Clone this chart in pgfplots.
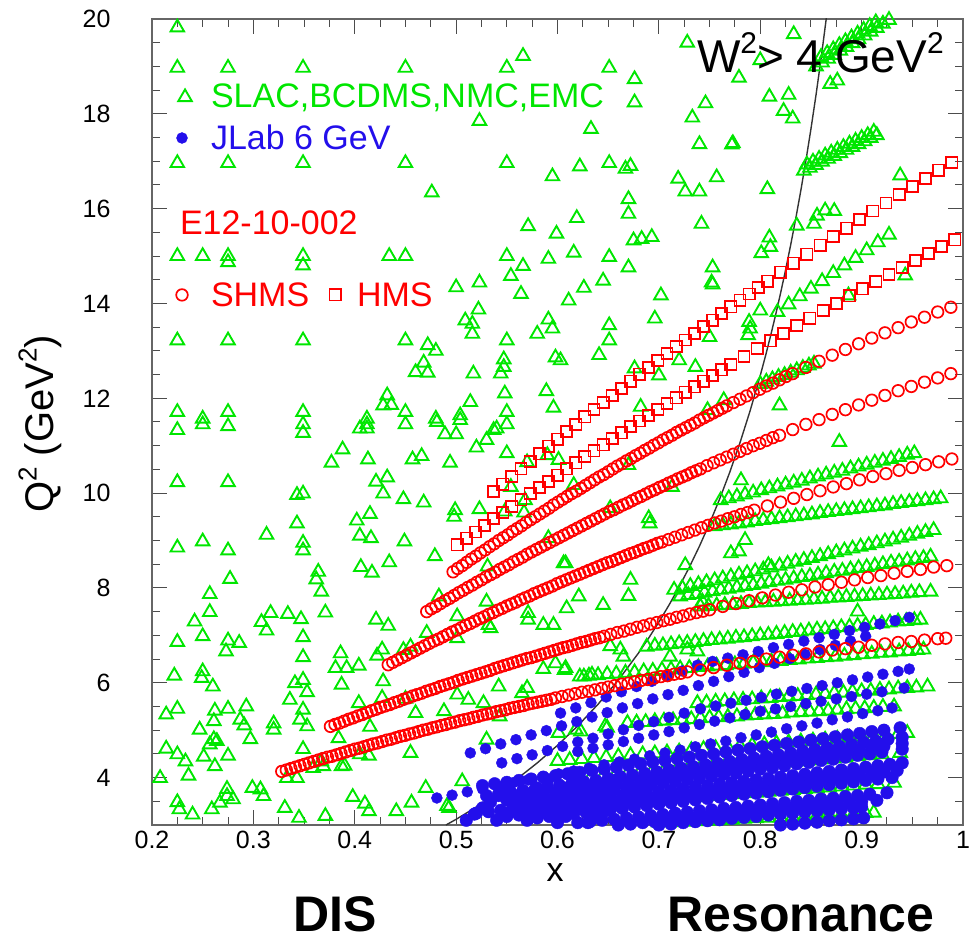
\documentclass[border=0pt]{standalone}
\usepackage{fontspec}
\setmainfont{Liberation Sans}
\usepackage{pgfplots}
\pgfplotsset{compat=1.18}
\definecolor{sgreen}{RGB}{0,230,0}
\definecolor{sblue}{RGB}{35,15,235}
\definecolor{sred}{RGB}{255,0,0}
\newcommand{\supt}[1]{\raisebox{0.42em}{\fontsize{#1}{#1}\selectfont 2}}
\begin{document}
\begin{tikzpicture}
\useasboundingbox (-152pt,-117pt) rectangle (819pt,825pt);
\begin{axis}[
  at={(0pt,0pt)}, anchor=south west,
  scale only axis, width=811pt, height=806pt,
  xmin=0.2, xmax=1, ymin=3, ymax=20,
  xtick={0.2,0.3,0.4,0.5,0.6,0.7,0.8,0.9,1},
  ytick={4,6,8,10,12,14,16,18,20},
  minor xtick={0.225,0.25,0.275,0.325,0.35,0.375,0.425,0.45,0.475,0.525,0.55,0.575,0.625,0.65,0.675,0.725,0.75,0.775,0.825,0.85,0.875,0.925,0.95,0.975},
  minor ytick={3.5,4.5,5,5.5,6.5,7,7.5,8.5,9,9.5,10.5,11,11.5,12.5,13,13.5,14.5,15,15.5,16.5,17,17.5,18.5,19,19.5},
  tick align=inside,
  major tick length=15pt, minor tick length=8pt,
  tick style={black!70, line width=1pt},
  axis line style={black!60, line width=1.3pt},
  /pgf/number format/assume math mode=true,
  tick label style={font=\fontsize{25}{30}\selectfont},
  yticklabel style={xshift=-38pt},
  xticklabel style={yshift=-3pt},
  gtri/.style={only marks, mark=triangle, mark size=7.8pt, color=sgreen, mark options={line width=1.9pt, solid}},
  bdot/.style={only marks, mark=*, mark size=5.5pt, color=sblue, mark options={draw=sblue, fill=sblue}},
  bdotb/.style={only marks, mark=*, mark size=6.3pt, color=sblue, mark options={draw=sblue, fill=sblue}},
  rcirc/.style={only marks, mark=o, mark size=5.8pt, color=sred, mark options={line width=1.7pt}},
  rsq/.style={only marks, mark=square, mark size=5.6pt, color=sred, mark options={line width=1.7pt}},
]
% ---------------- SLAC, BCDMS, NMC, EMC (scattered) ----------------
\addplot[gtri] coordinates {
(0.225,19.82)(0.225,18.97)(0.275,18.97)(0.349,18.97)(0.450,18.97)(0.550,18.97)(0.566,19.22)(0.523,17.85)
(0.225,16.96)(0.275,16.96)(0.349,16.96)(0.450,16.96)(0.550,16.96)(0.595,16.68)(0.476,16.34)(0.571,15.63)(0.599,15.47)
(0.225,15.00)(0.250,15.00)(0.275,15.00)(0.275,14.87)(0.349,15.00)(0.349,14.80)(0.434,15.00)(0.450,15.00)(0.550,15.00)(0.566,14.79)(0.591,14.94)(0.554,14.58)(0.523,14.44)(0.500,14.34)(0.564,14.20)(0.522,13.87)(0.509,13.64)(0.516,13.57)(0.516,13.36)(0.591,13.66)(0.595,13.47)(0.580,13.36)
(0.225,13.22)(0.275,13.22)(0.349,13.22)(0.450,13.22)(0.550,13.22)(0.472,13.12)(0.480,13.00)(0.468,12.75)(0.460,12.55)(0.472,12.54)(0.517,12.52)(0.547,12.82)(0.547,12.66)(0.544,12.52)(0.598,12.86)(0.548,12.10)(0.589,12.15)(0.432,12.06)(0.428,11.85)(0.436,11.86)(0.514,11.92)(0.596,11.80)
(0.225,11.71)(0.275,11.71)(0.349,11.71)(0.450,11.71)(0.550,11.71)(0.250,11.57)(0.412,11.57)(0.480,11.57)(0.504,11.64)
(0.728,19.50)(0.833,19.68)(0.800,19.13)(0.651,18.97)(0.676,18.73)(0.779,18.76)(0.676,18.24)(0.809,18.36)(0.828,18.40)(0.746,18.22)(0.733,17.92)(0.823,18.06)(0.832,17.90)(0.633,17.68)(0.740,17.36)(0.772,17.35)(0.773,17.38)(0.622,16.89)(0.651,16.96)(0.667,16.84)(0.672,16.90)(0.719,16.63)(0.757,16.66)(0.726,16.36)(0.740,16.36)(0.807,16.41)(0.938,16.70)(0.670,16.20)(0.670,15.89)(0.619,15.80)(0.742,15.68)(0.836,15.64)(0.853,15.68)(0.856,15.85)(0.864,15.96)(0.873,15.95)(0.675,15.33)(0.683,15.36)(0.693,15.40)(0.809,15.39)(0.810,15.19)(0.801,15.06)(0.616,15.07)(0.651,14.98)(0.670,14.76)(0.753,14.76)(0.752,14.44)(0.753,14.40)(0.645,14.48)(0.626,14.33)(0.611,14.06)(0.702,14.17)(0.943,14.59)(0.887,14.17)(0.800,13.85)(0.696,13.68)(0.651,13.54)(0.651,13.22)(0.789,13.61)(0.790,13.47)(0.788,13.33)(0.641,12.91)(0.676,12.63)(0.736,12.66)(0.750,13.29)(0.764,11.96)(0.819,11.85)(0.748,11.75)(0.682,11.82)(0.720,12.80)(0.700,12.48)(0.603,12.80)(0.869,18.63)(0.876,18.70)
(0.225,11.33)(0.250,11.45)(0.275,11.41)(0.349,11.45)(0.349,11.27)(0.412,11.45)(0.405,11.36)(0.412,11.36)(0.450,11.45)(0.481,11.50)(0.504,11.54)(0.540,11.36)(0.550,11.45)(0.537,11.33)(0.489,11.24)(0.500,11.24)
(0.388,10.92)(0.377,10.64)(0.413,10.71)(0.457,10.71)(0.466,10.78)(0.494,10.64)(0.520,10.96)(0.550,10.84)(0.421,10.24)(0.432,10.33)(0.428,9.99)(0.448,9.87)(0.468,9.80)(0.225,10.23)(0.275,10.23)(0.343,9.96)(0.349,9.99)(0.402,9.42)(0.415,9.56)(0.405,9.10)(0.416,9.05)(0.499,9.64)(0.498,9.50)(0.523,9.66)(0.567,9.59)(0.548,9.61)
(0.225,8.85)(0.250,8.98)(0.275,8.79)(0.313,9.12)(0.343,9.36)(0.349,8.95)(0.349,8.79)(0.364,8.34)(0.362,8.18)(0.367,7.92)(0.406,8.44)(0.417,8.32)(0.434,8.54)(0.449,8.98)(0.479,8.67)(0.277,8.19)(0.257,7.87)(0.242,7.29)(0.257,7.49)(0.250,6.98)(0.225,6.86)(0.275,6.89)(0.286,6.84)(0.273,6.66)(0.308,7.28)(0.317,7.47)(0.313,7.10)(0.334,7.45)(0.347,7.34)(0.349,6.96)(0.371,7.48)(0.421,7.33)(0.433,7.20)(0.349,6.54)(0.386,6.62)(0.381,6.31)(0.392,6.31)(0.404,6.36)(0.422,6.57)(0.427,6.70)(0.387,5.96)(0.428,6.03)
(0.222,6.15)(0.250,6.24)(0.249,6.10)(0.260,5.92)(0.336,5.64)(0.341,5.99)(0.349,6.06)(0.353,5.80)(0.349,5.43)(0.346,5.22)(0.353,5.08)(0.214,5.33)(0.225,5.45)(0.262,5.41)(0.261,5.19)(0.275,5.45)(0.293,5.50)(0.287,5.22)(0.291,5.10)(0.297,4.81)(0.320,5.14)(0.320,5.01)(0.247,5.01)(0.261,4.81)(0.257,4.70)(0.264,4.77)(0.214,4.61)(0.225,4.49)(0.233,4.34)(0.236,4.04)(0.251,4.44)(0.262,4.24)(0.275,4.46)(0.349,4.60)(0.384,4.83)(0.415,5.07)(0.404,5.57)(0.427,5.68)(0.450,5.66)(0.460,5.36)(0.455,4.52)(0.405,4.49)(0.414,4.46)(0.387,4.24)(0.390,4.25)(0.359,4.20)(0.343,3.99)(0.333,3.99)(0.367,4.34)(0.369,4.24)(0.208,3.99)
(0.225,3.48)(0.227,3.33)(0.240,3.22)(0.259,3.33)(0.267,3.47)(0.274,3.76)(0.280,3.54)(0.274,3.61)(0.299,3.78)(0.307,3.75)(0.310,3.61)(0.331,3.36)(0.345,3.15)(0.371,3.19)(0.398,3.59)(0.410,3.45)(0.414,3.29)(0.441,3.29)(0.456,3.47)(0.470,3.78)(0.491,3.40)(0.506,3.92)(0.530,4.80)(0.542,5.92)(0.570,5.89)(0.586,6.29)(0.598,6.41)(0.607,6.27)(0.596,7.22)(0.586,7.22)(0.571,7.47)(0.571,7.33)(0.530,7.71)(0.532,7.22)(0.534,7.15)(0.501,6.94)(0.501,7.40)(0.501,5.75)(0.512,5.64)(0.527,5.57)(0.488,5.40)(0.543,5.29)(0.565,5.78)(0.483,7.82)(0.531,8.45)(0.606,8.52)(0.591,9.05)(0.570,10.65)(0.590,10.80)(0.601,10.70)(0.554,10.13)(0.568,9.85)(0.530,11.12)(0.471,7.05)(0.455,6.76)(0.448,6.69)
(0.616,10.17)(0.652,9.68)(0.670,10.59)(0.690,9.47)(0.691,9.36)(0.713,10.13)(0.608,8.52)(0.672,8.17)(0.670,7.83)(0.645,7.64)(0.621,7.82)(0.609,7.57)(0.726,8.48)(0.781,10.27)(0.771,8.73)(0.779,8.77)(0.785,9.01)(0.808,8.48)(0.878,11.08)(0.896,7.50)(0.608,6.31)(0.626,6.13)(0.634,6.17)(0.652,6.77)(0.662,6.70)(0.665,6.55)(0.711,6.55)(0.728,6.70)(0.738,6.66)(0.647,5.08)(0.623,4.97)(0.618,5.01)(0.743,7.71)(0.850,3.12)(0.864,3.15)(0.879,3.15)(0.493,3.36)(0.649,5.05)(0.601,4.94)
};
% ---------------- SLAC etc. dense bands ----------------
\addplot[gtri] coordinates {(0.855,19.00)(0.861,19.08)(0.867,19.16)(0.873,19.24)(0.879,19.33)(0.885,19.41)(0.891,19.49)(0.897,19.57)(0.903,19.65)(0.909,19.73)(0.915,19.81)(0.921,19.90)(0.927,19.98)};
\addplot[gtri] coordinates {(0.860,19.20)(0.866,19.28)(0.872,19.36)(0.878,19.45)(0.884,19.53)(0.890,19.61)(0.896,19.69)(0.902,19.77)(0.908,19.85)(0.914,19.93)(0.920,20.02)};
\addplot[gtri] coordinates {(0.843,16.80)(0.849,16.86)(0.855,16.92)(0.861,16.99)(0.867,17.05)(0.873,17.11)(0.879,17.17)(0.885,17.24)(0.891,17.30)(0.897,17.36)(0.903,17.42)(0.909,17.49)(0.915,17.55)};
\addplot[gtri] coordinates {(0.846,16.93)(0.852,16.99)(0.858,17.05)(0.864,17.12)(0.870,17.18)(0.876,17.24)(0.882,17.30)(0.888,17.37)(0.894,17.43)(0.900,17.49)(0.906,17.55)(0.912,17.62)};
\addplot[gtri] coordinates {(0.817,13.82)(0.828,13.98)(0.839,14.15)(0.850,14.31)(0.861,14.47)(0.872,14.64)(0.883,14.80)(0.894,14.96)(0.905,15.12)(0.916,15.29)(0.927,15.45)};
\addplot[gtri] coordinates {(0.800,12.30)(0.806,12.35)(0.812,12.40)(0.818,12.45)(0.824,12.49)(0.830,12.54)(0.836,12.59)(0.842,12.64)(0.848,12.69)(0.853,12.73)};
\addplot[gtri] coordinates {(0.761,9.85)(0.769,9.89)(0.777,9.93)(0.785,9.97)(0.793,10.01)(0.801,10.06)(0.809,10.10)(0.817,10.14)(0.825,10.18)(0.833,10.22)(0.841,10.26)(0.849,10.31)(0.857,10.35)(0.865,10.39)(0.873,10.43)(0.881,10.47)(0.889,10.52)(0.897,10.56)(0.905,10.60)(0.913,10.64)(0.921,10.68)(0.929,10.72)(0.937,10.76)(0.945,10.81)(0.952,10.84)};
\addplot[gtri] coordinates {(0.755,9.30)(0.763,9.32)(0.771,9.34)(0.779,9.36)(0.787,9.38)(0.795,9.41)(0.803,9.43)(0.811,9.45)(0.819,9.47)(0.827,9.49)(0.835,9.51)(0.843,9.53)(0.851,9.55)(0.859,9.58)(0.867,9.60)(0.875,9.62)(0.883,9.64)(0.891,9.66)(0.899,9.68)(0.907,9.70)(0.915,9.72)(0.923,9.74)(0.931,9.77)(0.939,9.79)(0.947,9.81)(0.955,9.83)(0.963,9.85)(0.971,9.87)(0.978,9.89)};
\addplot[gtri] coordinates {(0.715,7.96)(0.723,8.00)(0.731,8.04)(0.739,8.08)(0.747,8.12)(0.755,8.16)(0.763,8.20)(0.771,8.24)(0.779,8.28)(0.787,8.31)(0.795,8.35)(0.803,8.39)(0.811,8.43)(0.819,8.47)(0.827,8.51)(0.835,8.55)(0.843,8.59)(0.851,8.63)(0.859,8.67)(0.867,8.71)(0.875,8.75)(0.883,8.79)(0.891,8.83)(0.899,8.87)(0.907,8.90)(0.915,8.94)(0.923,8.98)(0.931,9.02)(0.939,9.06)(0.947,9.10)(0.955,9.14)(0.963,9.18)(0.971,9.22)};
\addplot[gtri] coordinates {(0.721,7.82)(0.729,7.85)(0.737,7.87)(0.745,7.90)(0.753,7.93)(0.761,7.96)(0.769,7.98)(0.777,8.01)(0.785,8.04)(0.793,8.06)(0.801,8.09)(0.809,8.12)(0.817,8.15)(0.825,8.17)(0.833,8.20)(0.841,8.23)(0.849,8.25)(0.857,8.28)(0.865,8.31)(0.873,8.34)(0.881,8.36)(0.889,8.39)(0.897,8.42)(0.905,8.44)(0.913,8.47)(0.921,8.50)(0.929,8.53)(0.937,8.55)(0.945,8.58)(0.953,8.61)(0.961,8.63)(0.968,8.66)};
\addplot[gtri] coordinates {(0.741,7.61)(0.749,7.62)(0.757,7.63)(0.765,7.64)(0.773,7.65)(0.781,7.66)(0.789,7.68)(0.797,7.69)(0.805,7.70)(0.813,7.71)(0.821,7.72)(0.829,7.73)(0.837,7.74)(0.845,7.75)(0.853,7.76)(0.861,7.77)(0.869,7.79)(0.877,7.80)(0.885,7.81)(0.893,7.82)(0.901,7.83)(0.909,7.84)(0.917,7.85)(0.925,7.86)(0.933,7.87)(0.941,7.88)(0.949,7.90)(0.957,7.91)(0.968,7.92)};
\addplot[gtri] coordinates {(0.688,6.76)(0.696,6.78)(0.704,6.79)(0.712,6.81)(0.720,6.83)(0.728,6.84)(0.736,6.86)(0.744,6.88)(0.752,6.90)(0.760,6.91)(0.768,6.93)(0.776,6.95)(0.784,6.96)(0.792,6.98)(0.800,7.00)(0.808,7.01)(0.816,7.03)(0.824,7.05)(0.832,7.07)(0.840,7.08)(0.848,7.10)(0.856,7.12)(0.864,7.13)(0.872,7.15)(0.880,7.17)(0.888,7.18)(0.896,7.20)(0.904,7.22)(0.912,7.24)(0.920,7.25)(0.928,7.27)(0.936,7.29)(0.944,7.30)(0.952,7.32)(0.958,7.33)};
\addplot[gtri] coordinates {(0.622,6.13)(0.631,6.15)(0.640,6.16)(0.649,6.18)(0.658,6.19)(0.667,6.21)(0.676,6.22)(0.685,6.24)(0.694,6.25)(0.703,6.27)(0.712,6.28)(0.721,6.30)(0.730,6.31)(0.739,6.33)(0.748,6.34)(0.757,6.36)(0.766,6.37)(0.775,6.39)(0.784,6.40)(0.793,6.42)(0.802,6.43)(0.811,6.45)(0.820,6.46)(0.829,6.48)(0.838,6.49)(0.847,6.51)(0.856,6.52)(0.865,6.54)(0.874,6.55)(0.883,6.57)(0.892,6.58)(0.901,6.60)(0.910,6.61)(0.919,6.63)(0.928,6.64)(0.937,6.66)(0.946,6.67)(0.955,6.69)(0.961,6.70)};
\addplot[gtri] coordinates {(0.738,5.57)(0.747,5.58)(0.756,5.60)(0.765,5.61)(0.774,5.63)(0.783,5.64)(0.792,5.65)(0.801,5.67)(0.810,5.68)(0.819,5.70)(0.828,5.71)(0.837,5.72)(0.846,5.74)(0.855,5.75)(0.864,5.76)(0.873,5.78)(0.882,5.79)(0.891,5.81)(0.900,5.82)(0.909,5.83)(0.918,5.85)(0.927,5.86)(0.936,5.88)(0.945,5.89)(0.954,5.90)(0.965,5.92)};
\addplot[gtri] coordinates {(0.669,5.15)(0.678,5.16)(0.687,5.17)(0.696,5.19)(0.705,5.20)(0.714,5.21)(0.723,5.22)(0.732,5.23)(0.741,5.25)(0.750,5.26)(0.759,5.27)(0.768,5.28)(0.777,5.29)(0.786,5.31)(0.795,5.32)(0.804,5.33)(0.813,5.34)(0.822,5.35)(0.831,5.37)(0.840,5.38)(0.849,5.39)(0.858,5.40)(0.867,5.41)(0.876,5.43)(0.885,5.44)(0.894,5.45)(0.903,5.46)(0.912,5.47)(0.921,5.49)(0.932,5.50)};
\addplot[gtri] coordinates {(0.600,4.35)(0.612,4.37)(0.624,4.39)(0.636,4.41)(0.648,4.43)(0.660,4.45)(0.672,4.47)(0.684,4.49)(0.696,4.51)(0.708,4.53)(0.720,4.55)(0.732,4.58)(0.744,4.60)(0.756,4.62)(0.768,4.64)(0.780,4.66)(0.792,4.68)(0.804,4.70)(0.816,4.72)(0.828,4.74)(0.840,4.76)(0.852,4.78)(0.864,4.80)(0.876,4.82)(0.888,4.84)(0.900,4.86)(0.912,4.88)(0.924,4.90)(0.936,4.92)(0.945,4.94)};
\addplot[gtri] coordinates {(0.620,3.95)(0.632,3.97)(0.644,3.99)(0.656,4.01)(0.668,4.04)(0.680,4.06)(0.692,4.08)(0.704,4.10)(0.716,4.12)(0.728,4.14)(0.740,4.17)(0.752,4.19)(0.764,4.21)(0.776,4.23)(0.788,4.25)(0.800,4.27)(0.812,4.30)(0.824,4.32)(0.836,4.34)(0.848,4.36)(0.860,4.38)(0.872,4.40)(0.884,4.42)(0.896,4.45)(0.908,4.47)(0.920,4.49)(0.938,4.52)};
\addplot[gtri] coordinates {(0.640,3.45)(0.652,3.47)(0.664,3.49)(0.676,3.50)(0.688,3.52)(0.700,3.54)(0.712,3.56)(0.724,3.58)(0.736,3.59)(0.748,3.61)(0.760,3.63)(0.772,3.65)(0.784,3.67)(0.796,3.68)(0.808,3.70)(0.820,3.72)(0.832,3.74)(0.844,3.76)(0.856,3.77)(0.868,3.79)(0.880,3.81)(0.892,3.83)(0.904,3.85)(0.916,3.86)(0.932,3.89)};
\addplot[gtri] coordinates {(0.700,3.05)(0.712,3.06)(0.724,3.07)(0.736,3.08)(0.748,3.09)(0.760,3.10)(0.772,3.11)(0.784,3.13)(0.796,3.14)(0.808,3.15)(0.820,3.16)(0.832,3.17)(0.844,3.18)(0.856,3.20)(0.868,3.21)(0.880,3.22)(0.892,3.23)(0.904,3.25)(0.912,3.26)};
% ---------------- JLab 6 GeV ----------------
\addplot[bdot] coordinates {(0.603,5.36)(0.618,5.47)(0.633,5.58)(0.648,5.70)(0.663,5.81)(0.678,5.92)(0.693,6.03)(0.708,6.14)(0.723,6.25)(0.738,6.37)(0.753,6.45)(0.768,6.52)(0.783,6.59)(0.798,6.66)(0.813,6.74)(0.828,6.81)(0.843,6.88)(0.858,6.95)(0.873,7.02)(0.888,7.10)(0.903,7.17)(0.918,7.24)(0.933,7.31)(0.947,7.38)};
\addplot[bdot] coordinates {(0.514,4.52)(0.529,4.61)(0.544,4.71)(0.559,4.80)(0.574,4.90)(0.589,4.99)(0.604,5.09)(0.619,5.18)(0.634,5.28)(0.649,5.37)(0.664,5.47)(0.679,5.56)(0.694,5.66)(0.709,5.75)(0.724,5.84)(0.739,5.94)(0.754,6.03)(0.769,6.13)(0.784,6.22)(0.799,6.32)(0.814,6.41)(0.829,6.51)(0.844,6.60)(0.859,6.70)(0.874,6.79)(0.889,6.88)(0.904,6.98)};
\addplot[bdot] coordinates {(0.545,4.31)(0.560,4.40)(0.575,4.48)(0.590,4.57)(0.605,4.66)(0.620,4.75)(0.635,4.83)(0.650,4.92)(0.665,5.01)(0.680,5.10)(0.695,5.18)(0.710,5.27)(0.725,5.36)(0.741,5.45)(0.756,5.51)(0.771,5.57)(0.786,5.63)(0.801,5.69)(0.816,5.76)(0.831,5.82)(0.846,5.88)(0.861,5.94)(0.876,6.00)(0.891,6.06)(0.906,6.12)(0.921,6.18)(0.936,6.24)(0.947,6.29)};
\addplot[bdot] coordinates {(0.620,4.55)(0.635,4.62)(0.650,4.69)(0.665,4.76)(0.680,4.83)(0.695,4.90)(0.710,4.97)(0.725,5.05)(0.740,5.12)(0.755,5.19)(0.770,5.26)(0.785,5.33)(0.800,5.40)(0.815,5.45)(0.830,5.50)(0.845,5.56)(0.860,5.61)(0.875,5.66)(0.890,5.71)(0.905,5.76)(0.920,5.81)(0.942,5.89)};
\addplot[bdot] coordinates {(0.481,3.57)(0.496,3.63)(0.511,3.70)(0.526,3.76)(0.541,3.82)(0.556,3.89)(0.571,3.95)(0.586,4.01)(0.601,4.08)(0.616,4.14)(0.631,4.20)(0.646,4.27)(0.661,4.33)(0.676,4.39)(0.691,4.46)(0.706,4.52)(0.721,4.58)(0.736,4.65)(0.751,4.71)(0.766,4.77)(0.781,4.84)(0.796,4.90)(0.811,4.96)(0.826,5.03)(0.841,5.09)(0.856,5.15)(0.871,5.22)(0.886,5.28)(0.901,5.35)(0.916,5.41)(0.930,5.47)};
\addplot[bdotb] coordinates {(0.526,3.83)(0.538,3.87)(0.550,3.90)(0.562,3.94)(0.574,3.97)(0.586,4.01)(0.598,4.04)(0.610,4.08)(0.622,4.11)(0.634,4.15)(0.646,4.18)(0.658,4.22)(0.670,4.26)(0.682,4.29)(0.694,4.33)(0.706,4.36)(0.718,4.40)(0.730,4.43)(0.742,4.47)(0.754,4.50)(0.766,4.54)(0.778,4.58)(0.790,4.61)(0.802,4.65)(0.814,4.68)(0.826,4.72)(0.838,4.75)(0.850,4.79)(0.862,4.82)(0.874,4.86)(0.886,4.90)(0.898,4.93)(0.910,4.97)(0.922,5.00)(0.938,5.05)};
\addplot[bdotb] coordinates {(0.530,3.62)(0.542,3.66)(0.554,3.69)(0.566,3.73)(0.578,3.76)(0.590,3.80)(0.602,3.84)(0.614,3.87)(0.626,3.91)(0.638,3.94)(0.650,3.98)(0.662,4.02)(0.674,4.05)(0.686,4.09)(0.698,4.12)(0.710,4.16)(0.722,4.20)(0.734,4.23)(0.746,4.27)(0.758,4.30)(0.770,4.34)(0.782,4.38)(0.794,4.41)(0.806,4.45)(0.818,4.48)(0.830,4.52)(0.842,4.56)(0.854,4.59)(0.866,4.63)(0.878,4.66)(0.890,4.70)(0.902,4.74)(0.914,4.77)(0.926,4.81)(0.940,4.85)};
\addplot[bdotb] coordinates {(0.550,3.53)(0.562,3.57)(0.574,3.60)(0.586,3.64)(0.598,3.68)(0.610,3.71)(0.622,3.75)(0.634,3.79)(0.646,3.82)(0.658,3.86)(0.670,3.90)(0.682,3.93)(0.694,3.97)(0.706,4.00)(0.718,4.04)(0.730,4.08)(0.742,4.11)(0.754,4.15)(0.766,4.19)(0.778,4.22)(0.790,4.26)(0.802,4.30)(0.814,4.33)(0.826,4.37)(0.838,4.41)(0.850,4.44)(0.862,4.48)(0.874,4.52)(0.886,4.55)(0.898,4.59)(0.910,4.63)(0.922,4.66)(0.940,4.72)};
\addplot[bdotb] coordinates {(0.560,3.45)(0.572,3.49)(0.584,3.52)(0.596,3.56)(0.608,3.60)(0.620,3.63)(0.632,3.67)(0.644,3.70)(0.656,3.74)(0.668,3.78)(0.680,3.81)(0.692,3.85)(0.704,3.89)(0.716,3.92)(0.728,3.96)(0.740,3.99)(0.752,4.03)(0.764,4.07)(0.776,4.10)(0.788,4.14)(0.800,4.18)(0.812,4.21)(0.824,4.25)(0.836,4.29)(0.848,4.32)(0.860,4.36)(0.872,4.39)(0.884,4.43)(0.896,4.47)(0.908,4.50)(0.920,4.54)(0.940,4.60)};
\addplot[bdotb] coordinates {(0.520,3.25)(0.532,3.28)(0.544,3.31)(0.556,3.34)(0.568,3.37)(0.580,3.40)(0.592,3.43)(0.604,3.46)(0.616,3.49)(0.628,3.52)(0.640,3.55)(0.652,3.58)(0.664,3.61)(0.676,3.64)(0.688,3.67)(0.700,3.70)(0.712,3.73)(0.724,3.77)(0.736,3.80)(0.748,3.83)(0.760,3.86)(0.772,3.89)(0.784,3.92)(0.796,3.95)(0.808,3.98)(0.820,4.01)(0.832,4.04)(0.844,4.07)(0.856,4.10)(0.868,4.13)(0.880,4.16)(0.892,4.19)(0.904,4.22)(0.916,4.25)(0.928,4.28)(0.940,4.31)};
\addplot[bdotb] coordinates {(0.550,3.18)(0.562,3.21)(0.574,3.24)(0.586,3.27)(0.598,3.30)(0.610,3.33)(0.622,3.36)(0.634,3.39)(0.646,3.42)(0.658,3.45)(0.670,3.48)(0.682,3.51)(0.694,3.54)(0.706,3.57)(0.718,3.60)(0.730,3.63)(0.742,3.66)(0.754,3.69)(0.766,3.72)(0.778,3.75)(0.790,3.78)(0.802,3.81)(0.814,3.84)(0.826,3.87)(0.838,3.90)(0.850,3.94)(0.862,3.97)(0.874,4.00)(0.886,4.03)(0.898,4.06)(0.910,4.09)(0.922,4.12)(0.935,4.15)};
\addplot[bdotb] coordinates {(0.580,3.15)(0.592,3.18)(0.604,3.21)(0.616,3.24)(0.628,3.27)(0.640,3.30)(0.652,3.32)(0.664,3.35)(0.676,3.38)(0.688,3.41)(0.700,3.44)(0.712,3.47)(0.724,3.50)(0.736,3.53)(0.748,3.56)(0.760,3.59)(0.772,3.62)(0.784,3.65)(0.796,3.67)(0.808,3.70)(0.820,3.73)(0.832,3.76)(0.844,3.79)(0.856,3.82)(0.868,3.85)(0.880,3.88)(0.892,3.91)(0.904,3.94)(0.916,3.97)(0.930,4.00)};
\addplot[bdotb] coordinates {(0.620,3.05)(0.632,3.07)(0.644,3.10)(0.656,3.12)(0.668,3.15)(0.680,3.17)(0.692,3.20)(0.704,3.22)(0.716,3.25)(0.728,3.27)(0.740,3.30)(0.752,3.32)(0.764,3.35)(0.776,3.37)(0.788,3.40)(0.800,3.42)(0.812,3.45)(0.824,3.47)(0.836,3.50)(0.848,3.52)(0.860,3.55)(0.872,3.57)(0.884,3.60)(0.896,3.62)(0.908,3.65)(0.925,3.68)};
\addplot[bdotb] coordinates {(0.660,3.00)(0.672,3.02)(0.684,3.05)(0.696,3.07)(0.708,3.10)(0.720,3.12)(0.732,3.15)(0.744,3.17)(0.756,3.20)(0.768,3.22)(0.780,3.24)(0.792,3.27)(0.804,3.29)(0.816,3.32)(0.828,3.34)(0.840,3.37)(0.852,3.39)(0.864,3.42)(0.876,3.44)(0.888,3.47)(0.900,3.49)(0.915,3.52)};
\addplot[bdotb] coordinates {(0.700,3.00)(0.712,3.02)(0.724,3.05)(0.736,3.07)(0.748,3.09)(0.760,3.11)(0.772,3.14)(0.784,3.16)(0.796,3.18)(0.808,3.21)(0.820,3.23)(0.832,3.25)(0.844,3.27)(0.856,3.30)(0.868,3.32)(0.880,3.34)(0.892,3.36)(0.900,3.38)};
\addplot[bdotb] coordinates {(0.820,3.00)(0.832,3.02)(0.844,3.04)(0.856,3.06)(0.868,3.09)(0.880,3.11)(0.892,3.13)(0.902,3.15)};
\addplot[bdotb] coordinates {(0.510,3.10)(0.518,3.23)(0.526,3.36)(0.534,3.49)(0.542,3.62)(0.550,3.75)};
\addplot[bdotb] coordinates {(0.540,3.10)(0.548,3.24)(0.556,3.37)(0.564,3.51)(0.572,3.64)(0.580,3.78)(0.590,3.95)};
\addplot[bdotb] coordinates {(0.570,3.10)(0.578,3.24)(0.586,3.37)(0.594,3.51)(0.602,3.64)(0.610,3.78)(0.620,3.95)};
\addplot[bdotb] coordinates {(0.600,3.05)(0.608,3.18)(0.616,3.30)(0.624,3.43)(0.632,3.56)(0.640,3.68)(0.648,3.81)(0.656,3.94)};
\addplot[bdotb] coordinates {(0.630,3.05)(0.638,3.16)(0.646,3.28)(0.654,3.39)(0.662,3.50)(0.670,3.62)(0.678,3.73)(0.686,3.84)};
% ---------------- E12-10-002 SHMS ----------------
\addplot[rcirc] coordinates {(0.328,4.13)(0.337,4.19)(0.346,4.25)(0.355,4.31)(0.364,4.37)(0.373,4.43)(0.382,4.48)(0.391,4.54)(0.400,4.60)(0.409,4.65)(0.418,4.71)(0.427,4.76)(0.436,4.81)(0.445,4.87)(0.454,4.92)(0.463,4.97)(0.472,5.02)(0.481,5.07)(0.490,5.12)(0.499,5.17)(0.508,5.22)(0.517,5.27)(0.526,5.32)(0.535,5.36)(0.544,5.41)(0.553,5.46)(0.562,5.50)(0.571,5.55)(0.580,5.59)(0.589,5.63)(0.598,5.68)(0.611,5.74)(0.624,5.80)(0.637,5.85)(0.650,5.91)(0.663,5.97)(0.676,6.02)(0.689,6.07)(0.702,6.13)(0.715,6.18)(0.728,6.23)(0.741,6.27)(0.754,6.32)(0.767,6.37)(0.780,6.41)(0.793,6.45)(0.806,6.50)(0.819,6.54)(0.832,6.58)(0.845,6.61)(0.858,6.65)(0.871,6.69)(0.884,6.72)(0.897,6.75)(0.910,6.79)(0.923,6.82)(0.936,6.85)(0.949,6.87)(0.962,6.90)(0.975,6.93)(0.983,6.94)};
\addplot[rcirc] coordinates {(0.3325,4.16)(0.3415,4.22)(0.3505,4.28)(0.3595,4.34)(0.3685,4.40)(0.3775,4.45)(0.3865,4.51)(0.3955,4.57)(0.4045,4.62)(0.4135,4.68)(0.4225,4.73)(0.4315,4.79)(0.4405,4.84)(0.4495,4.89)(0.4585,4.94)(0.4675,5.00)(0.4765,5.05)(0.4855,5.10)(0.4945,5.15)(0.5035,5.20)(0.5125,5.24)(0.5215,5.29)(0.5305,5.34)(0.5395,5.39)(0.5485,5.43)(0.5575,5.48)(0.5665,5.52)(0.5755,5.57)(0.5845,5.61)(0.5935,5.65)(0.6045,5.71)(0.6175,5.77)(0.6305,5.82)(0.6435,5.88)(0.6565,5.94)(0.6695,5.99)(0.6825,6.05)(0.6955,6.10)(0.7085,6.15)(0.7215,6.20)};
\addplot[rcirc] coordinates {(0.376,5.08)(0.385,5.15)(0.394,5.23)(0.403,5.30)(0.412,5.37)(0.421,5.44)(0.430,5.51)(0.439,5.58)(0.448,5.65)(0.457,5.72)(0.466,5.78)(0.475,5.85)(0.484,5.92)(0.493,5.98)(0.502,6.05)(0.511,6.11)(0.520,6.17)(0.529,6.23)(0.538,6.30)(0.547,6.36)(0.556,6.42)(0.565,6.48)(0.574,6.53)(0.583,6.59)(0.592,6.65)(0.601,6.71)(0.610,6.76)(0.619,6.82)(0.628,6.87)(0.637,6.93)(0.646,6.98)(0.659,7.06)(0.672,7.13)(0.685,7.20)(0.698,7.27)(0.711,7.34)(0.724,7.41)(0.737,7.48)(0.750,7.54)(0.763,7.61)(0.776,7.67)(0.789,7.73)(0.802,7.79)(0.815,7.85)(0.828,7.91)(0.841,7.96)(0.854,8.02)(0.867,8.07)(0.880,8.12)(0.893,8.17)(0.906,8.22)(0.919,8.26)(0.932,8.31)(0.945,8.35)(0.958,8.39)(0.971,8.44)(0.984,8.47)};
\addplot[rcirc] coordinates {(0.3805,5.12)(0.3895,5.19)(0.3985,5.26)(0.4075,5.33)(0.4165,5.41)(0.4255,5.48)(0.4345,5.54)(0.4435,5.61)(0.4525,5.68)(0.4615,5.75)(0.4705,5.82)(0.4795,5.88)(0.4885,5.95)(0.4975,6.01)(0.5065,6.08)(0.5155,6.14)(0.5245,6.20)(0.5335,6.26)(0.5425,6.33)(0.5515,6.39)(0.5605,6.45)(0.5695,6.51)(0.5785,6.56)(0.5875,6.62)(0.5965,6.68)(0.6055,6.74)(0.6145,6.79)(0.6235,6.85)(0.6325,6.90)(0.6415,6.95)(0.6525,7.02)(0.6655,7.09)(0.6785,7.17)(0.6915,7.24)(0.7045,7.31)(0.7175,7.38)(0.7305,7.45)(0.7435,7.51)};
\addplot[rcirc] coordinates {(0.433,6.38)(0.442,6.48)(0.451,6.58)(0.460,6.68)(0.469,6.78)(0.478,6.88)(0.487,6.97)(0.496,7.07)(0.505,7.16)(0.514,7.25)(0.523,7.35)(0.532,7.44)(0.541,7.53)(0.550,7.62)(0.559,7.70)(0.568,7.79)(0.577,7.88)(0.586,7.96)(0.595,8.04)(0.604,8.13)(0.613,8.21)(0.622,8.29)(0.631,8.37)(0.640,8.45)(0.649,8.53)(0.658,8.60)(0.667,8.68)(0.676,8.75)(0.685,8.83)(0.694,8.90)(0.703,8.97)(0.716,9.07)(0.729,9.17)(0.742,9.27)(0.755,9.37)(0.768,9.46)(0.781,9.55)(0.794,9.64)(0.807,9.73)(0.820,9.81)(0.833,9.89)(0.846,9.97)(0.859,10.05)(0.872,10.13)(0.885,10.20)(0.898,10.28)(0.911,10.35)(0.924,10.41)(0.937,10.48)(0.950,10.54)(0.963,10.60)(0.976,10.66)(0.989,10.72)};
\addplot[rcirc] coordinates {(0.4375,6.43)(0.4465,6.53)(0.4555,6.63)(0.4645,6.73)(0.4735,6.83)(0.4825,6.92)(0.4915,7.02)(0.5005,7.11)(0.5095,7.21)(0.5185,7.30)(0.5275,7.39)(0.5365,7.48)(0.5455,7.57)(0.5545,7.66)(0.5635,7.75)(0.5725,7.83)(0.5815,7.92)(0.5905,8.00)(0.5995,8.09)(0.6085,8.17)(0.6175,8.25)(0.6265,8.33)(0.6355,8.41)(0.6445,8.49)(0.6535,8.56)(0.6625,8.64)(0.6715,8.72)(0.6805,8.79)(0.6895,8.86)(0.6985,8.94)(0.7095,9.02)(0.7225,9.12)(0.7355,9.22)(0.7485,9.32)(0.7615,9.41)(0.7745,9.50)(0.7875,9.59)};
\addplot[rcirc] coordinates {(0.471,7.50)(0.480,7.61)(0.489,7.73)(0.498,7.84)(0.507,7.95)(0.516,8.06)(0.525,8.17)(0.534,8.28)(0.543,8.39)(0.552,8.49)(0.561,8.60)(0.570,8.71)(0.579,8.81)(0.588,8.91)(0.597,9.01)(0.606,9.11)(0.615,9.21)(0.624,9.31)(0.633,9.41)(0.642,9.51)(0.651,9.61)(0.660,9.70)(0.669,9.79)(0.678,9.89)(0.687,9.98)(0.696,10.07)(0.705,10.16)(0.714,10.25)(0.723,10.34)(0.732,10.43)(0.741,10.51)(0.754,10.64)(0.767,10.76)(0.780,10.88)(0.793,11.00)(0.806,11.11)(0.819,11.22)(0.832,11.34)(0.845,11.45)(0.858,11.55)(0.871,11.66)(0.884,11.76)(0.897,11.86)(0.910,11.96)(0.923,12.06)(0.936,12.16)(0.949,12.25)(0.962,12.34)(0.975,12.43)(0.988,12.52)};
\addplot[rcirc] coordinates {(0.4755,7.56)(0.4845,7.67)(0.4935,7.78)(0.5025,7.90)(0.5115,8.01)(0.5205,8.12)(0.5295,8.23)(0.5385,8.33)(0.5475,8.44)(0.5565,8.55)(0.5655,8.65)(0.5745,8.76)(0.5835,8.86)(0.5925,8.96)(0.6015,9.06)(0.6105,9.16)(0.6195,9.26)(0.6285,9.36)(0.6375,9.46)(0.6465,9.56)(0.6555,9.65)(0.6645,9.75)(0.6735,9.84)(0.6825,9.93)(0.6915,10.03)(0.7005,10.12)(0.7095,10.21)(0.7185,10.30)(0.7275,10.38)(0.7365,10.47)(0.7475,10.58)(0.7605,10.70)(0.7735,10.82)(0.7865,10.94)(0.7995,11.05)(0.8125,11.17)};
\addplot[rcirc] coordinates {(0.497,8.34)(0.506,8.47)(0.515,8.61)(0.524,8.74)(0.533,8.87)(0.542,9.00)(0.551,9.12)(0.560,9.25)(0.569,9.38)(0.578,9.50)(0.587,9.62)(0.596,9.75)(0.605,9.87)(0.614,9.99)(0.623,10.10)(0.632,10.22)(0.641,10.34)(0.650,10.45)(0.659,10.57)(0.668,10.68)(0.677,10.79)(0.686,10.90)(0.695,11.01)(0.704,11.12)(0.713,11.22)(0.722,11.33)(0.731,11.43)(0.740,11.54)(0.749,11.64)(0.758,11.74)(0.767,11.84)(0.780,11.98)(0.793,12.12)(0.806,12.26)(0.819,12.39)(0.832,12.52)(0.845,12.65)(0.858,12.78)(0.871,12.91)(0.884,13.03)(0.897,13.15)(0.910,13.27)(0.923,13.38)(0.936,13.49)(0.949,13.61)(0.962,13.71)(0.975,13.82)(0.988,13.92)};
\addplot[rcirc] coordinates {(0.5015,8.41)(0.5105,8.54)(0.5195,8.67)(0.5285,8.80)(0.5375,8.93)(0.5465,9.06)(0.5555,9.19)(0.5645,9.31)(0.5735,9.44)(0.5825,9.56)(0.5915,9.68)(0.6005,9.81)(0.6095,9.93)(0.6185,10.04)(0.6275,10.16)(0.6365,10.28)(0.6455,10.39)(0.6545,10.51)(0.6635,10.62)(0.6725,10.73)(0.6815,10.84)(0.6905,10.95)(0.6995,11.06)(0.7085,11.17)(0.7175,11.28)(0.7265,11.38)(0.7355,11.48)(0.7445,11.59)(0.7535,11.69)(0.7625,11.79)(0.7735,11.91)(0.7865,12.05)(0.7995,12.19)(0.8125,12.32)(0.8255,12.46)};
% ---------------- E12-10-002 HMS ----------------
\addplot[rsq] coordinates {(0.501,8.91)(0.510,9.05)(0.519,9.18)(0.528,9.32)(0.537,9.46)(0.546,9.59)(0.555,9.72)(0.564,9.86)(0.573,9.99)(0.582,10.12)(0.591,10.25)(0.600,10.38)(0.609,10.51)(0.618,10.64)(0.627,10.77)(0.636,10.89)(0.645,11.02)(0.654,11.15)(0.663,11.27)(0.672,11.40)(0.681,11.52)(0.690,11.64)(0.699,11.76)(0.708,11.89)(0.717,12.01)(0.726,12.13)(0.735,12.24)(0.744,12.36)(0.753,12.48)(0.762,12.60)(0.771,12.71)(0.784,12.88)(0.797,13.05)(0.810,13.21)(0.823,13.37)(0.836,13.53)(0.849,13.69)(0.862,13.85)(0.875,14.00)(0.888,14.16)(0.901,14.31)(0.914,14.46)(0.927,14.61)(0.940,14.76)(0.953,14.91)(0.966,15.05)(0.979,15.20)(0.992,15.34)};
\addplot[rsq] coordinates {(0.537,10.03)(0.546,10.19)(0.555,10.35)(0.564,10.51)(0.573,10.67)(0.582,10.83)(0.591,10.99)(0.600,11.14)(0.609,11.30)(0.618,11.45)(0.627,11.61)(0.636,11.76)(0.645,11.91)(0.654,12.06)(0.663,12.21)(0.672,12.36)(0.681,12.51)(0.690,12.65)(0.699,12.80)(0.708,12.94)(0.717,13.09)(0.726,13.23)(0.735,13.37)(0.744,13.51)(0.753,13.65)(0.762,13.79)(0.771,13.93)(0.780,14.07)(0.789,14.20)(0.798,14.34)(0.807,14.47)(0.820,14.66)(0.833,14.85)(0.846,15.04)(0.859,15.23)(0.872,15.41)(0.885,15.59)(0.898,15.77)(0.911,15.95)(0.924,16.12)(0.937,16.30)(0.950,16.47)(0.963,16.64)(0.976,16.81)(0.989,16.97)};
% ---------------- W^2 = 4 GeV^2 boundary ----------------
\addplot[black!80, line width=1.4pt, mark=none] coordinates {(0.49,3.00)(0.50,3.12)(0.52,3.38)(0.54,3.663)(0.56,3.971)(0.58,4.309)(0.60,4.68)(0.62,5.091)(0.64,5.547)(0.66,6.056)(0.68,6.63)(0.69,6.945)(0.70,7.28)(0.71,7.639)(0.72,8.023)(0.73,8.436)(0.74,8.88)(0.75,9.36)(0.76,9.88)(0.77,10.445)(0.78,11.062)(0.79,11.737)(0.80,12.48)(0.805,12.88)(0.81,13.301)(0.815,13.745)(0.82,14.213)(0.825,14.709)(0.83,15.233)(0.835,15.789)(0.84,16.38)(0.845,17.009)(0.85,17.68)(0.855,18.397)(0.86,19.166)(0.865,19.991)(0.87,20.88)};
% ---------------- legend markers ----------------
\addplot[gtri] coordinates {(0.2326,18.35)};
\addplot[bdot] coordinates {(0.2296,17.49)};
\addplot[rcirc] coordinates {(0.2296,14.18)};
\addplot[rsq] coordinates {(0.3807,14.18)};
\end{axis}
% ---------------- texts ----------------
\begin{scope}[every node/.style={inner sep=0pt, outer sep=0pt}]
\node[anchor=base west, text=sgreen, font=\fontsize{34}{40}\selectfont] at (59pt,717pt) {SLAC,BCDMS,NMC,EMC};
\node[anchor=base west, text=sblue, font=\fontsize{34}{40}\selectfont] at (59pt,675pt) {JLab 6 GeV};
\node[anchor=base west, text=sred, font=\fontsize{34}{40}\selectfont] at (28pt,590pt) {E12-10-002};
\node[anchor=base west, text=sred, font=\fontsize{34}{40}\selectfont] at (59pt,518pt) {SHMS};
\node[anchor=base west, text=sred, font=\fontsize{34}{40}\selectfont] at (205pt,518pt) {HMS};
\node[anchor=base west, text=black, font=\fontsize{46}{50}\selectfont] at (545pt,752pt) {W\supt{30}> 4 GeV\supt{30}};
\node[anchor=center, rotate=90, font=\fontsize{40}{44}\selectfont] at (-112pt,401pt) {Q\supt{26} (GeV\supt{26})};
\node[anchor=center, font=\fontsize{34}{40}\selectfont] at (403pt,-48pt) {x};
\node[anchor=base, font=\fontsize{50}{56}\selectfont\bfseries] at (183pt,-106pt) {DIS};
\node[anchor=base, font=\fontsize{50}{56}\selectfont\bfseries] at (649pt,-106pt) {Resonance};
\end{scope}
\end{tikzpicture}
\end{document}
